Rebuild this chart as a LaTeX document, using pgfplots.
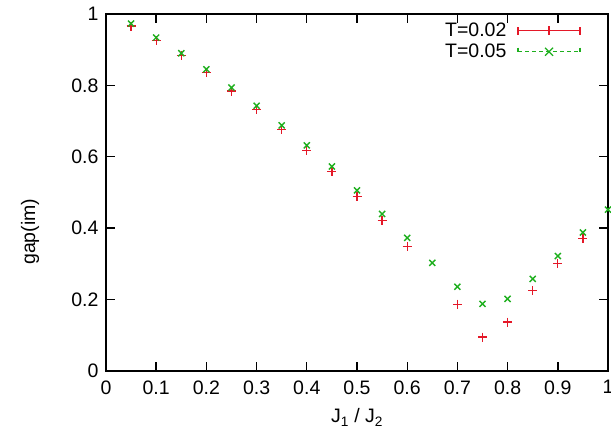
\documentclass[border=0pt]{standalone}
\usepackage{pgfplots}
\pgfplotsset{compat=1.18}
\usepackage{fontspec}
\setmainfont{Liberation Sans}
\definecolor{gpred}{RGB}{228,24,40}
\definecolor{gpgreen}{RGB}{30,175,30}
\begin{document}
\begin{tikzpicture}[font=\fontsize{19.5}{22}\selectfont]
\path[use as bounding box] (-106pt,-64pt) rectangle (505pt,371pt);
\begin{axis}[
  at={(0pt,0pt)}, anchor=south west,
  scale only axis, width=502pt, height=357pt,
  xmin=0, xmax=1, ymin=0, ymax=1,
  xtick={0,0.1,0.2,0.3,0.4,0.5,0.6,0.7,0.8,0.9,1},
  xticklabels={0,0.1,0.2,0.3,0.4,0.5,0.6,0.7,0.8,0.9,1},
  ytick={0,0.2,0.4,0.6,0.8,1},
  yticklabels={0,0.2,0.4,0.6,0.8,1},
  tick align=inside, major tick length=9pt,
  tick style={line width=1.4pt, black},
  axis line style={line width=1.4pt},
  /pgf/number format/assume math mode=true,
  xticklabel style={yshift=-6pt},
  yticklabel style={xshift=-4pt},
  xlabel={J\textsubscript{1} / J\textsubscript{2}},
  ylabel={gap(im)},
  xlabel style={at={(axis description cs:0.5,-0.13)}, anchor=center},
  ylabel style={at={(axis description cs:-0.151,0.39)}, anchor=center, rotate=0},
  legend plot pos=right,
  legend style={draw=none, fill=none, at={(axis description cs:0.946,0.978)}, anchor=north east,
    inner sep=0pt, row sep=4pt, column sep=10pt, nodes={inner sep=1pt}},
  legend cell align=right,
]
\addplot[only marks, mark=+, mark size=4.5pt, gpred, line width=1.3pt,
  legend image code/.code={
    \draw[gpred, line width=1.3pt] (0pt,0pt) -- (62pt,0pt);
    \draw[gpred, line width=1.3pt] (0pt,-4pt) -- (0pt,4pt) (62pt,-4pt) -- (62pt,4pt) (31pt,-4.5pt) -- (31pt,4.5pt);
  }] coordinates {
(0.05,0.966) (0.10,0.925) (0.15,0.883) (0.20,0.837) (0.25,0.784)
(0.30,0.732) (0.35,0.676) (0.40,0.618) (0.45,0.559) (0.50,0.488)
(0.55,0.421) (0.60,0.349) (0.70,0.187) (0.75,0.095) (0.80,0.137)
(0.85,0.226) (0.90,0.302) (0.95,0.372)
};
\addlegendentry{T=0.02}
\addplot[only marks, mark=x, mark size=4.3pt, gpgreen, line width=1.4pt,
  legend image code/.code={
    \draw[gpgreen, line width=1.1pt, dash pattern=on 4pt off 3pt] (0pt,0pt) -- (62pt,0pt);
    \draw[gpgreen, line width=1.1pt] (0pt,4pt) -- (0pt,0pt) (62pt,4pt) -- (62pt,0pt);
    \draw[gpgreen, line width=1.3pt] (27pt,-4pt) -- (35pt,4pt) (27pt,4pt) -- (35pt,-4pt);
  }] coordinates {
(0.05,0.973) (0.10,0.934) (0.15,0.890) (0.20,0.845) (0.25,0.794)
(0.30,0.743) (0.35,0.688) (0.40,0.632) (0.45,0.573) (0.50,0.506)
(0.55,0.440) (0.60,0.373) (0.65,0.303) (0.70,0.236) (0.75,0.188)
(0.80,0.202) (0.85,0.258) (0.90,0.322) (0.95,0.388) (1.00,0.452)
};
\addlegendentry{T=0.05}
\end{axis}
\end{tikzpicture}
\end{document}
